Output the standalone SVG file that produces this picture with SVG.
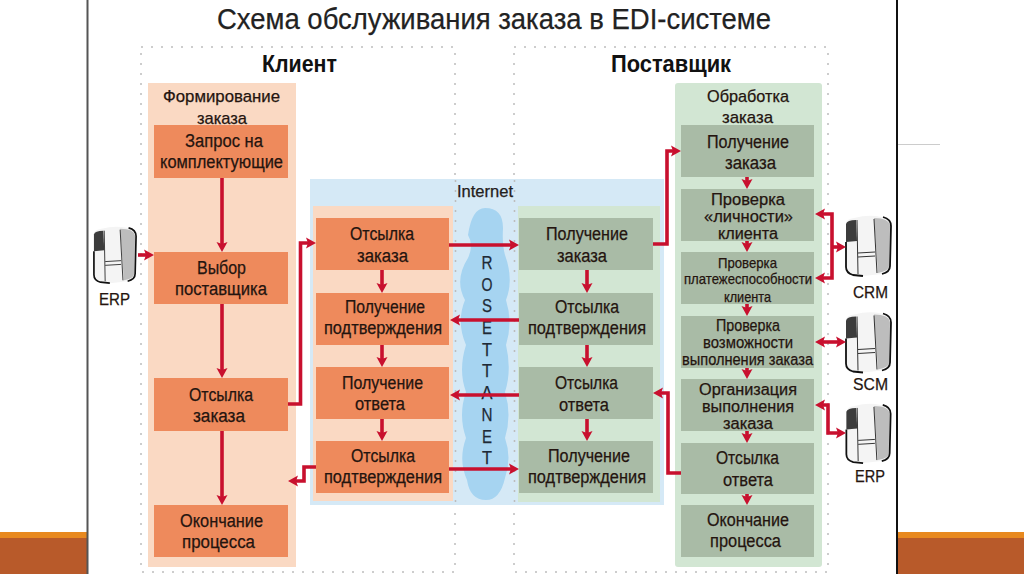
<svg xmlns="http://www.w3.org/2000/svg" width="1024" height="574" viewBox="0 0 1024 574">
<style>
text{font-family:"Liberation Sans",Arial,sans-serif;font-size:18px;fill:#24140f;stroke:#24140f;stroke-width:.25}
.s{font-size:14.500px}.m{font-size:17px}.t{font-size:16px}.h{font-size:23px;font-weight:bold;fill:#111;stroke:none}
.ttl{font-size:30px;fill:#222;stroke:#222}.lat{font-size:16px;fill:#222}.let{font-size:18px;fill:#1e2a36;stroke:#1e2a36;text-anchor:middle}
.o{fill:#ee8a5c}.g{fill:#a9bba6}.d{fill:none;stroke:#bdbdbd;stroke-width:1.500;stroke-dasharray:2 8}
.c{fill:none;stroke:#c8102e;stroke-width:3.600;marker-end:url(#a)}
.b{marker-start:url(#a)}
</style>
<defs>
<marker id="a" markerUnits="userSpaceOnUse" markerWidth="14" markerHeight="14" refX="6" refY="7" orient="auto-start-reverse"><path d="M0 1.500L10 7L0 12.500L2 7Z" fill="#c8102e"/></marker>
<symbol id="srv" viewBox="0 0 47 63" overflow="visible">
<path d="M1 9Q1 4 9 3Q24-1 36 2Q46 4 46 11L45 51Q45 57 37 59L18 61Q8 62 3 58Q1 56 1 52Z" fill="#f4f4f4"/>
<path d="M29 3Q44 3 45 11L44 51Q44 56 33 58Z" fill="#bdbdbd"/>
<path d="M1 9Q2 5 11 5L12 26L1 27Z" fill="#3c3c3c"/>
<path d="M12 5L13 59M29 4L32 58M13 38L30 37M13 42L30 41" fill="none" stroke="#333" stroke-width="1"/>
<path d="M38 2Q46 4 46 11L45 51Q45 57 37 59M1 27V52Q1 58 8 60L18 61" fill="none" stroke="#111" stroke-width="1.800"/>
</symbol>
</defs>
<rect width="1024" height="574" fill="#fff"/>
<g id="slide-frame">
<rect x="0" y="532" width="87" height="42" fill="#b85a2a"/><rect x="0" y="532" width="87" height="6" fill="#e8891f"/>
<rect x="898" y="532" width="126" height="42" fill="#b85a2a"/><rect x="898" y="532" width="126" height="6" fill="#e8891f"/>
<path d="M87.500 0V574" stroke="#555" stroke-width="2"/><path d="M897 0V574" stroke="#111" stroke-width="2"/>
<path d="M898 144.500H940" stroke="#ccc" stroke-width="1"/>
</g>
<text id="title" class="ttl" x="217" y="29" textLength="554" lengthAdjust="spacingAndGlyphs">Схема обслуживания заказа в EDI-системе</text>

<g id="client-zone">
<rect class="d" x="141" y="47" width="314" height="525"/>
<text class="h" x="262" y="72" textLength="75" lengthAdjust="spacingAndGlyphs">Клиент</text>
</g>
<g id="supplier-zone">
<rect class="d" x="514" y="47" width="314" height="525"/>
<text class="h" x="611" y="72" textLength="120" lengthAdjust="spacingAndGlyphs">Поставщик</text>
</g>

<g id="internet">
<rect x="310" y="179" width="354" height="326" fill="#d5e9f6"/>
<rect x="313" y="206" width="140" height="295" fill="#fad9c3"/>
<rect x="518" y="206" width="142" height="296" fill="#d2e6d3"/>
<path d="M455.500 180V505M514.500 180V505" class="d"/>
<path d="M485 208Q503 208 503 228Q502 245 505 255Q514 280 506 300Q513 322 506 345Q512 370 505 392Q512 415 505 438Q512 458 505 478Q500 500 486 500Q470 500 467 480Q458 460 466 438Q458 415 466 392Q458 370 466 345Q456 322 465 300Q454 280 468 258Q474 245 468 235Q472 208 485 208Z" fill="#a6d4f1"/>
<text class="lat" x="457" y="197" textLength="56" lengthAdjust="spacingAndGlyphs">Internet</text>
<g id="rosettanet"><text class="let" x="487" y="269" textLength="11" lengthAdjust="spacingAndGlyphs">R</text><text class="let" x="487" y="291" textLength="11" lengthAdjust="spacingAndGlyphs">O</text><text class="let" x="487" y="312" textLength="10" lengthAdjust="spacingAndGlyphs">S</text><text class="let" x="487" y="334" textLength="10" lengthAdjust="spacingAndGlyphs">E</text><text class="let" x="487" y="356" textLength="10" lengthAdjust="spacingAndGlyphs">T</text><text class="let" x="487" y="377" textLength="10" lengthAdjust="spacingAndGlyphs">T</text><text class="let" x="487" y="399" textLength="11" lengthAdjust="spacingAndGlyphs">A</text><text class="let" x="487" y="421" textLength="11" lengthAdjust="spacingAndGlyphs">N</text><text class="let" x="487" y="443" textLength="10" lengthAdjust="spacingAndGlyphs">E</text><text class="let" x="487" y="464" textLength="10" lengthAdjust="spacingAndGlyphs">T</text></g>
</g>

<g id="lane-forming">
<rect x="148" y="83" width="148" height="484" fill="#fad9c3"/>
<text x="163" y="102" class="m" textLength="117" lengthAdjust="spacingAndGlyphs">Формирование</text>
<text x="197" y="124" class="m" textLength="50" lengthAdjust="spacingAndGlyphs">заказа</text>
</g>
<g id="lane-processing">
<rect x="675" y="83" width="147" height="484" rx="3" fill="#d2e6d3"/>
<text x="707" y="102" class="m" textLength="82" lengthAdjust="spacingAndGlyphs">Обработка</text>
<text x="722" y="123" class="m" textLength="51" lengthAdjust="spacingAndGlyphs">заказа</text>
</g>

<g id="c1"><rect class="o" x="154" y="125" width="134" height="53"/><text x="185" y="147" textLength="78" lengthAdjust="spacingAndGlyphs">Запрос на</text><text x="160" y="168" textLength="123" lengthAdjust="spacingAndGlyphs">комплектующие</text></g>
<g id="c2"><rect class="o" x="154" y="252" width="134" height="52"/><text x="197" y="274" textLength="49" lengthAdjust="spacingAndGlyphs">Выбор</text><text x="175" y="295" textLength="92" lengthAdjust="spacingAndGlyphs">поставщика</text></g>
<g id="c3"><rect class="o" x="154" y="378" width="134" height="53"/><text x="189" y="401" textLength="64" lengthAdjust="spacingAndGlyphs">Отсылка</text><text x="193" y="422" textLength="52" lengthAdjust="spacingAndGlyphs">заказа</text></g>
<g id="c4"><rect class="o" x="154" y="505" width="134" height="52"/><text x="180" y="527" textLength="83" lengthAdjust="spacingAndGlyphs">Окончание</text><text x="182" y="548" textLength="73" lengthAdjust="spacingAndGlyphs">процесса</text></g>

<g id="m1"><rect class="o" x="316" y="218" width="133" height="52"/><text x="350" y="240" textLength="64" lengthAdjust="spacingAndGlyphs">Отсылка</text><text x="357" y="262" textLength="51" lengthAdjust="spacingAndGlyphs">заказа</text></g>
<g id="m2"><rect class="o" x="316" y="293" width="133" height="52"/><text x="345" y="313" textLength="80" lengthAdjust="spacingAndGlyphs">Получение</text><text x="324" y="334" textLength="118" lengthAdjust="spacingAndGlyphs">подтверждения</text></g>
<g id="m3"><rect class="o" x="316" y="367" width="133" height="52"/><text x="342" y="389" textLength="81" lengthAdjust="spacingAndGlyphs">Получение</text><text x="355" y="410" textLength="50" lengthAdjust="spacingAndGlyphs">ответа</text></g>
<g id="m4"><rect class="o" x="316" y="441" width="133" height="52"/><text x="351" y="462" textLength="64" lengthAdjust="spacingAndGlyphs">Отсылка</text><text x="324" y="483" textLength="118" lengthAdjust="spacingAndGlyphs">подтверждения</text></g>

<g id="n1"><rect class="g" x="519" y="218" width="134" height="52"/><text x="546" y="240" textLength="82" lengthAdjust="spacingAndGlyphs">Получение</text><text x="557" y="262" textLength="50" lengthAdjust="spacingAndGlyphs">заказа</text></g>
<g id="n2"><rect class="g" x="519" y="293" width="134" height="52"/><text x="555" y="313" textLength="64" lengthAdjust="spacingAndGlyphs">Отсылка</text><text x="528" y="334" textLength="118" lengthAdjust="spacingAndGlyphs">подтверждения</text></g>
<g id="n3"><rect class="g" x="519" y="367" width="134" height="52"/><text x="555" y="389" textLength="63" lengthAdjust="spacingAndGlyphs">Отсылка</text><text x="559" y="411" textLength="50" lengthAdjust="spacingAndGlyphs">ответа</text></g>
<g id="n4"><rect class="g" x="519" y="441" width="134" height="52"/><text x="548" y="462" textLength="82" lengthAdjust="spacingAndGlyphs">Получение</text><text x="528" y="483" textLength="118" lengthAdjust="spacingAndGlyphs">подтверждения</text></g>

<g id="p1"><rect class="g" x="681" y="125" width="133" height="52"/><text x="707" y="148" textLength="82" lengthAdjust="spacingAndGlyphs">Получение</text><text x="725" y="169" textLength="51" lengthAdjust="spacingAndGlyphs">заказа</text></g>
<g id="p2"><rect class="g" x="681" y="189" width="133" height="52"/><text x="711" y="205" class="t" textLength="74" lengthAdjust="spacingAndGlyphs">Проверка</text><text x="704" y="222" class="t" textLength="89" lengthAdjust="spacingAndGlyphs">«личности»</text><text x="718" y="239" class="t" textLength="60" lengthAdjust="spacingAndGlyphs">клиента</text></g>
<g id="p3"><rect class="g" x="681" y="252" width="133" height="52"/><text x="718" y="268" class="s" textLength="59" lengthAdjust="spacingAndGlyphs">Проверка</text><text x="684" y="284" class="s" textLength="128" lengthAdjust="spacingAndGlyphs">платежеспособности</text><text x="724" y="302" class="s" textLength="47" lengthAdjust="spacingAndGlyphs">клиента</text></g>
<g id="p4"><rect class="g" x="681" y="316" width="133" height="52"/><text x="716" y="331" class="t" textLength="64" lengthAdjust="spacingAndGlyphs">Проверка</text><text x="703" y="348" class="t" textLength="90" lengthAdjust="spacingAndGlyphs">возможности</text><text x="682" y="365" class="t" textLength="131" lengthAdjust="spacingAndGlyphs">выполнения заказа</text></g>
<g id="p5"><rect class="g" x="681" y="379" width="133" height="52"/><text x="699" y="395" class="t" textLength="98" lengthAdjust="spacingAndGlyphs">Организация</text><text x="702" y="412" class="t" textLength="92" lengthAdjust="spacingAndGlyphs">выполнения</text><text x="723" y="429" class="t" textLength="50" lengthAdjust="spacingAndGlyphs">заказа</text></g>
<g id="p6"><rect class="g" x="681" y="443" width="133" height="51"/><text x="716" y="464" textLength="63" lengthAdjust="spacingAndGlyphs">Отсылка</text><text x="723" y="486" textLength="50" lengthAdjust="spacingAndGlyphs">ответа</text></g>
<g id="p7"><rect class="g" x="681" y="505" width="133" height="52"/><text x="707" y="526" textLength="82" lengthAdjust="spacingAndGlyphs">Окончание</text><text x="710" y="547" textLength="71" lengthAdjust="spacingAndGlyphs">процесса</text></g>

<g id="erp-left"><use href="#srv" x="92" y="226" width="46" height="59"/><text x="99" y="305" class="m" textLength="31" lengthAdjust="spacingAndGlyphs">ERP</text></g>
<g id="crm"><use href="#srv" x="845" y="215" width="47" height="63"/><text x="853" y="298" class="m" textLength="35" lengthAdjust="spacingAndGlyphs">CRM</text></g>
<g id="scm"><use href="#srv" x="845" y="311" width="47" height="64"/><text x="853" y="390" class="m" textLength="35" lengthAdjust="spacingAndGlyphs">SCM</text></g>
<g id="erp-right"><use href="#srv" x="845" y="403" width="47" height="62"/><text x="855" y="482" class="m" textLength="30" lengthAdjust="spacingAndGlyphs">ERP</text></g>

<g id="connectors">
<path class="c" d="M222 178V248"/><path class="c" d="M222 304V374"/><path class="c" d="M222 431V501"/>
<path class="c" d="M138 255H150"/>
<path class="c" d="M288 404H300.500V243H312"/>
<path class="c" d="M316 467H304V481H292"/>
<path class="c" d="M382 270V289"/><path class="c" d="M382 345V363"/><path class="c" d="M382 419V437"/>
<path class="c" d="M449 245H515"/><path class="c" d="M519 320H454"/><path class="c" d="M519 395H454"/><path class="c" d="M449 469H515"/>
<path class="c" d="M587 270V289"/><path class="c" d="M587 345V363"/><path class="c" d="M587 419V437"/>
<path class="c" d="M653 244H667V151H677"/>
<path class="c" d="M681 473H668V393H657"/>
<path class="c" d="M747 177V185"/><path class="c" d="M747 241V248"/><path class="c" d="M747 304V312"/><path class="c" d="M747 368V375"/><path class="c" d="M747 431V439"/><path class="c" d="M747 494V501"/>
<path class="c b" d="M819 214H832V278H819"/><path class="c" d="M832 247H842"/>
<path class="c b" d="M819 342H842"/>
<path class="c b" d="M819 405H828V433H842"/>
</g>
</svg>
